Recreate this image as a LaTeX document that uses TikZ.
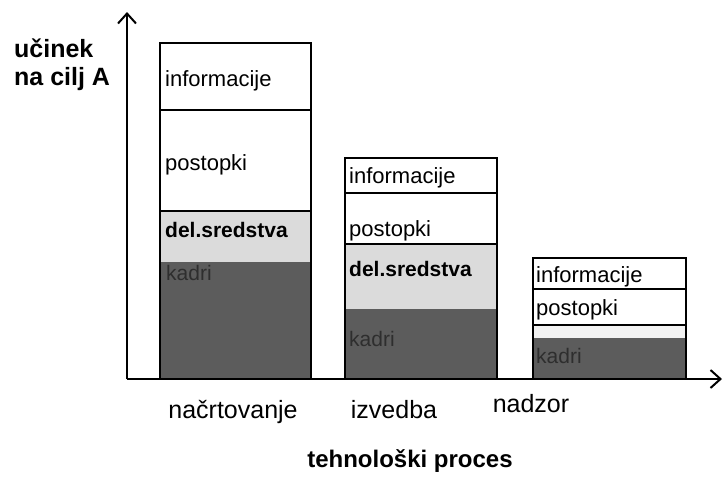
\documentclass[tikz,border=0pt]{standalone}
\usepackage{fontspec}
\setmainfont{Liberation Sans}
\usetikzlibrary{arrows.meta}
\begin{document}
\begin{tikzpicture}[x=1pt,y=-1pt,
  seg/.style={draw=black, line width=1.5pt},
  axis/.style={draw=black, line width=2pt, -{Straight Barb[length=10pt,width=18pt,line width=2pt]}},
  darkfill/.style={fill=black!64},
  lightfill/.style={fill=black!14},
  paledfill/.style={fill=black!5},
  lbl/.style={anchor=base west, inner sep=0pt, font=\fontsize{22}{26}\selectfont},
  blbl/.style={anchor=base west, inner sep=0pt, font=\fontsize{21}{25}\selectfont\bfseries},
  klbl/.style={anchor=base west, inner sep=0pt, text=black!82, font=\fontsize{21}{25}\selectfont},
  xlbl/.style={anchor=base, inner sep=0pt, font=\fontsize{25}{28}\selectfont},
  ylbl/.style={anchor=base west, inner sep=0pt, font=\fontsize{25}{28}\selectfont\bfseries}]
\useasboundingbox (0,0) rectangle (724,496);

% bar 1 : načrtovanje
\fill[darkfill] (160,262) rectangle (311,379);
\fill[lightfill] (160,211) rectangle (311,262);
\draw[seg] (160,379) -- (160,43) -- (311,43) -- (311,379);
\draw[seg] (160,110) -- (311,110);
\draw[seg] (160,211) -- (311,211);
\node[lbl] (b1i) at (165,86) {informacije};
\node[lbl] (b1p) at (165,170) {postopki};
\node[blbl] (b1d) at (165,237) {del.sredstva};
\node[klbl] (b1k) at (166,280) {kadri};

% bar 2 : izvedba
\fill[darkfill] (345,309) rectangle (497,379);
\fill[lightfill] (345,244) rectangle (497,309);
\draw[seg] (345,379) -- (345,158) -- (497,158) -- (497,379);
\draw[seg] (345,193) -- (497,193);
\draw[seg] (345,244) -- (497,244);
\node[lbl] (b2i) at (349,183) {informacije};
\node[lbl] (b2p) at (349,236) {postopki};
\node[blbl] (b2d) at (349,276) {del.sredstva};
\node[klbl] (b2k) at (349,346) {kadri};

% bar 3 : nadzor
\fill[darkfill] (533,338) rectangle (686,379);
\fill[paledfill] (533,325) rectangle (686,338);
\draw[seg] (533,379) -- (533,258) -- (686,258) -- (686,379);
\draw[seg] (533,289) -- (686,289);
\draw[seg] (533,325) -- (686,325);
\node[lbl] (b3i) at (536,282) {informacije};
\node[lbl] (b3p) at (536,315) {postopki};
\node[klbl] (b3k) at (536,363) {kadri};

% axes
\coordinate (o) at (127,379);
\coordinate (ytip) at (127,12);
\coordinate (xtip) at (722,379);
\draw[axis] (o) -- (ytip);
\draw[axis] (o) -- (xtip);

% labels
\node[ylbl] (yl1) at (14,57) {učinek};
\node[ylbl] (yl2) at (14,85) {na cilj A};
\node[xlbl] (x1) at (233,418) {načrtovanje};
\node[xlbl] (x2) at (394,418) {izvedba};
\node[xlbl] (x3) at (531,412) {nadzor};
\node[anchor=base, inner sep=0pt, font=\fontsize{24}{28}\selectfont\bfseries] (xt) at (410,467) {tehnološki proces};
\end{tikzpicture}
\end{document}
